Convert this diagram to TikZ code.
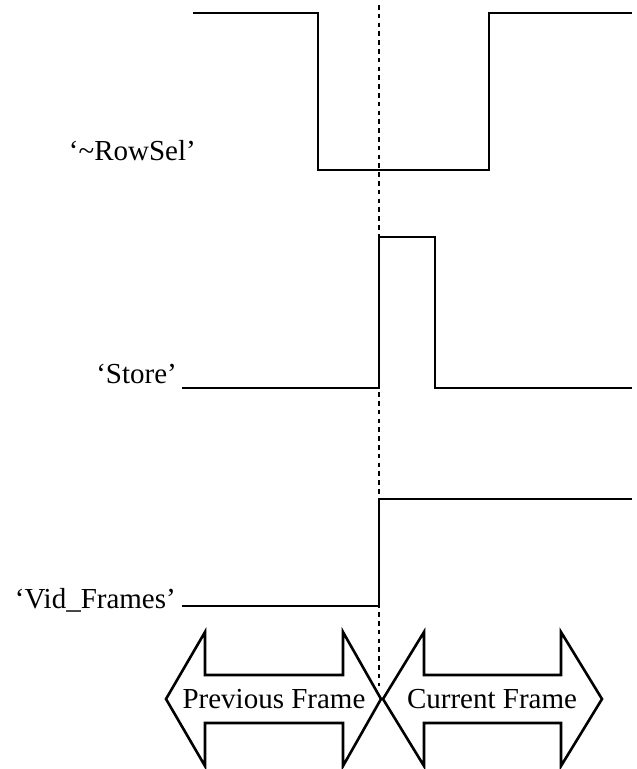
\documentclass[tikz,border=0pt]{standalone}
\usepackage{fontspec}
\setmainfont{Liberation Serif}
\begin{document}
\begin{tikzpicture}[x=1pt,y=-1pt,
  wave/.style={line width=2.8pt,line join=miter,line cap=butt},
  siglabel/.style={inner sep=0pt,anchor=base east,font=\fontsize{29}{34}\selectfont},
  framearrow/.style={line width=2.6pt,line join=miter},
  frametext/.style={inner sep=0pt,anchor=base,font=\fontsize{29}{34}\selectfont},
  marker/.style={line width=2.4pt,dash pattern=on 4.5pt off 4.3pt}]
\useasboundingbox (0,0) rectangle (637,769);

% frame boundary marker
\coordinate (mtop) at (379,5);
\coordinate (mbot) at (379,686);
\draw[marker] (mtop) -- (mbot);

% signal names
\node[siglabel] (lrow) at (196,160) {‘\textasciitilde RowSel’};
\node[siglabel] (lstore) at (177,383) {‘Store’};
\node[siglabel] (lvid) at (176,608) {‘Vid\_Frames’};

% ~RowSel
\draw[wave] (193,13) -- (318,13) -- (318,170) -- (489,170) -- (489,13) -- (632,13);
% Store
\draw[wave] (182,388) -- (379,388) -- (379,237) -- (435,237) -- (435,388) -- (632,388);
% Vid_Frames
\draw[wave] (182,606) -- (379,606) -- (379,499) -- (632,499);

% double-headed frame arrows
\draw[framearrow] (166,699) -- (205,632) -- (205,675) -- (343,675) -- (343,632)
  -- (381,699) -- (343,766) -- (343,723) -- (205,723) -- (205,766) -- cycle;
\draw[framearrow] (383,699) -- (424,632) -- (424,675) -- (561,675) -- (561,632)
  -- (602,699) -- (561,766) -- (561,723) -- (424,723) -- (424,766) -- cycle;
\node[frametext] (prev) at (274,708) {Previous Frame};
\node[frametext] (curr) at (492,708) {Current Frame};
\end{tikzpicture}
\end{document}
